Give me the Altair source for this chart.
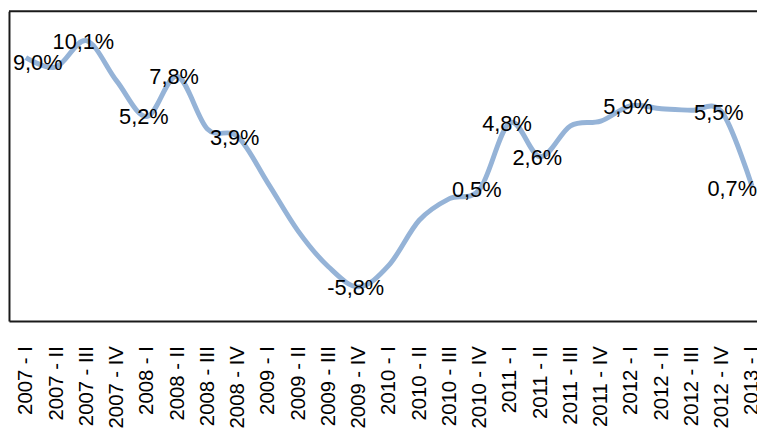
import altair as alt
import pandas as pd

quarters = [
    "2007 - I", "2007 - II", "2007 - III", "2007 - IV",
    "2008 - I", "2008 - II", "2008 - III", "2008 - IV",
    "2009 - I", "2009 - II", "2009 - III", "2009 - IV",
    "2010 - I", "2010 - II", "2010 - III", "2010 - IV",
    "2011 - I", "2011 - II", "2011 - III", "2011 - IV",
    "2012 - I", "2012 - II", "2012 - III", "2012 - IV",
    "2013 - I",
]
growth = [9.0, 8.4, 10.1, 7.5, 5.2, 7.8, 4.4, 3.9, 0.9, -2.2, -4.5, -5.8,
          -4.4, -1.5, -0.1, 0.5, 4.8, 2.6, 4.6, 4.9, 5.9, 5.7, 5.6, 5.5, 0.7]
point_labels = ["9,0%", "", "10,1%", "", "5,2%", "7,8%", "", "3,9%", "", "", "", "-5,8%",
                "", "", "", "0,5%", "4,8%", "2,6%", "", "", "5,9%", "", "", "5,5%", "0,7%"]

df = pd.DataFrame({
    "idx": list(range(len(quarters))),
    "quarter": quarters,
    "growth": growth,
    "label": point_labels,
})
last = len(quarters) - 1

FONT = "Liberation Sans"
label_expr = "[" + ",".join("'" + q + "'" for q in quarters) + "][datum.value]"

x_enc = alt.X(
    "idx:Q",
    scale=alt.Scale(domain=[-0.556, 24.163], nice=False, zero=False),
    axis=alt.Axis(
        values=list(range(len(quarters))), tickCount=len(quarters) + 5,
        labelExpr=label_expr,
        labelAngle=270, labelAlign="right", labelBaseline="middle",
        labelFont=FONT, labelFontSize=20.5, labelColor="black",
        labelPadding=25, labelFlush=False, labelOverlap=False, labelBound=False,
        ticks=False, tickSize=0, grid=False, domain=True,
        domainColor="#1a1a1a", domainWidth=2, title=None,
    ),
)
y_enc = alt.Y(
    "growth:Q",
    scale=alt.Scale(domain=[-8, 12], nice=False, zero=False),
    axis=alt.Axis(labels=False, ticks=False, grid=False, title=None,
                  domain=True, domainColor="#1a1a1a", domainWidth=2),
)

base = alt.Chart(df)

line = base.mark_line(interpolate="cardinal", color="#95B3D7", strokeWidth=5).encode(
    x=x_enc, y=y_enc
)

txt_style = dict(font=FONT, fontSize=22, color="black", baseline="middle")

mid_labels = base.transform_filter(
    f"datum.label != '' && datum.idx > 0 && datum.idx < {last}"
).mark_text(align="center", dx=-3, dy=1, **txt_style).encode(
    x=alt.X("idx:Q"), y=alt.Y("growth:Q"), text="label:N"
)
first_label = base.transform_filter("datum.idx == 0").mark_text(
    align="left", dx=-13, dy=5, **txt_style
).encode(x=alt.X("idx:Q"), y=alt.Y("growth:Q"), text="label:N")
last_label = base.transform_filter(f"datum.idx == {last}").mark_text(
    align="right", dx=5, dy=3, **txt_style
).encode(x=alt.X("idx:Q"), y=alt.Y("growth:Q"), text="label:N")

top_border = alt.Chart(pd.DataFrame({"a": [0]})).mark_rule(
    color="#1a1a1a", strokeWidth=2
).encode(y=alt.value(0))

chart = alt.layer(line, mid_labels, first_label, last_label, top_border).properties(
    width=756,
    height=313,
    autosize=alt.AutoSizeParams(type="none"),
    padding={"left": 1, "top": 1, "right": 0, "bottom": 110},
    background="white",
).configure_view(stroke=None)

chart.save("out.html", embed_options={"renderer": "svg", "actions": False})
